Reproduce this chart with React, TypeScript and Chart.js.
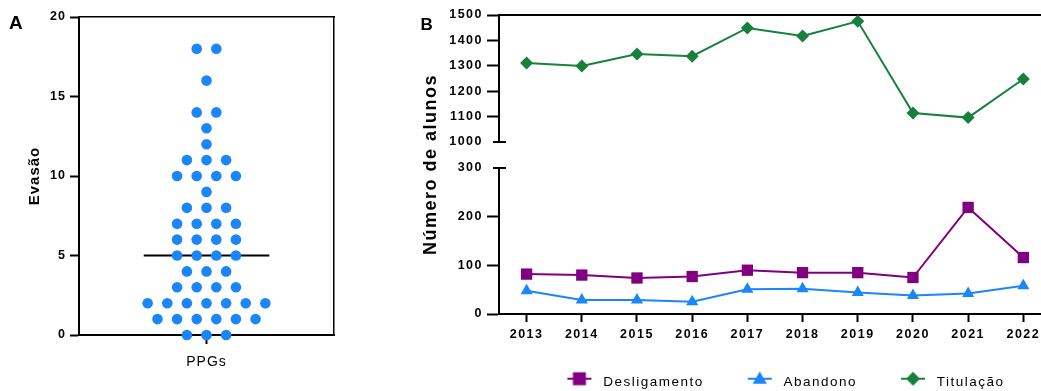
import React, { useEffect, useRef } from "react";
import { Chart, registerables } from "chart.js";

Chart.register(...registerables);

const FONT = "'Liberation Sans', Arial, Helvetica, sans-serif";
Chart.defaults.font.family = FONT;
Chart.defaults.color = "#000";

// ---------- Panel A data ----------
const evasaoCategory = "PPGs";
const evasaoTitle = "Evasão";
const evasaoValues = [
  0, 0, 0,
  1, 1, 1, 1, 1, 1,
  2, 2, 2, 2, 2, 2, 2,
  3, 3, 3, 3,
  4, 4, 4,
  5, 5, 5, 5,
  6, 6, 6, 6,
  7, 7, 7, 7,
  8, 8, 8,
  9,
  10, 10, 10, 10,
  11, 11, 11,
  12,
  13,
  14, 14,
  16,
  18, 18,
];
const evasaoTicks = [0, 5, 10, 15, 20];

// ---------- Panel B data ----------
const years = [2013, 2014, 2015, 2016, 2017, 2018, 2019, 2020, 2021, 2022];
const desligamento = [82, 80, 74, 77, 90, 85, 85, 75, 219, 116];
const abandono = [48, 29, 29, 25, 51, 52, 44, 38, 42, 58];
const titulacao = [1311, 1299, 1346, 1338, 1449, 1417, 1475, 1114, 1096, 1248];
const lowerTicks = [0, 100, 200, 300];
const upperTicks = [1000, 1100, 1200, 1300, 1400, 1500];
const yTitleB = "Número de alunos";
const seriesLabels = ["Desligamento", "Abandono", "Titulação"];

// ---------- styles ----------
const BLUE = "#1A86F7";
const PURPLE = "#800080";
const GREEN = "#17803D";
const BLACK = "#000";

const X_MIN_B = 2012.5;
const X_MAX_B = 2022.32;
const SWARM_HALF_RANGE = 6.5;
const MEDIAN_HALF_WIDTH = 3.2;

function swarm(values: number[]) {
  const counts = new Map<number, number>();
  values.forEach((v) => counts.set(v, (counts.get(v) || 0) + 1));
  const seen = new Map<number, number>();
  return values.map((v) => {
    const n = counts.get(v) || 1;
    const i = seen.get(v) || 0;
    seen.set(v, i + 1);
    return { x: i - (n - 1) / 2, y: v };
  });
}

function median(values: number[]) {
  const s = [...values].sort((a, b) => a - b);
  const m = Math.floor(s.length / 2);
  return s.length % 2 ? s[m] : (s[m - 1] + s[m]) / 2;
}

const spacingPlugin = (px: string) => ({
  id: "letterSpacing",
  beforeUpdate(chart: any) {
    chart.ctx.letterSpacing = px;
  },
  beforeDraw(chart: any) {
    chart.ctx.letterSpacing = px;
  },
});

const breakMarks = {
  id: "breakMarks",
  afterDraw(chart: any) {
    const ctx = chart.ctx;
    const mark = (id: string, value: number) => {
      const s = chart.scales[id];
      const y = Math.round(s.getPixelForValue(value));
      const x = s.right;
      ctx.save();
      ctx.strokeStyle = BLACK;
      ctx.lineWidth = 2;
      ctx.beginPath();
      ctx.moveTo(x - 6, y);
      ctx.lineTo(x + 7, y);
      ctx.stroke();
      ctx.restore();
    };
    mark("yTop", upperTicks[0]);
    mark("yBottom", lowerTicks[lowerTicks.length - 1]);
  },
};

const ICON_LEFT = 32;
const ICON_LINE = 24;
const ICON_RIGHT = 5;
const ICON_W = ICON_LEFT + ICON_LINE + ICON_RIGHT;

function legendIcon(color: string, style: string) {
  const H = 24;
  const c = document.createElement("canvas");
  c.width = ICON_W;
  c.height = H;
  const g = c.getContext("2d")!;
  const x0 = ICON_LEFT;
  const cx = x0 + ICON_LINE / 2;
  const cy = 8;
  g.strokeStyle = color;
  g.lineWidth = 2;
  g.beginPath();
  g.moveTo(x0, cy);
  g.lineTo(x0 + ICON_LINE, cy);
  g.stroke();
  g.fillStyle = color;
  g.beginPath();
  if (style === "rect") {
    g.rect(cx - 6.5, cy - 6.5, 13, 13);
  } else if (style === "triangle") {
    g.moveTo(cx, cy - 7.5);
    g.lineTo(cx + 7, cy + 5);
    g.lineTo(cx - 7, cy + 5);
    g.closePath();
  } else {
    g.moveTo(cx, cy - 7);
    g.lineTo(cx + 7, cy);
    g.lineTo(cx, cy + 7);
    g.lineTo(cx - 7, cy);
    g.closePath();
  }
  g.fill();
  return c;
}

function configA(): any {
  const med = median(evasaoValues);
  const tickFont = { family: FONT, size: 12.5, weight: "bold" as const };
  return {
    type: "scatter",
    data: {
      datasets: [
        {
          type: "scatter",
          data: swarm(evasaoValues),
          backgroundColor: BLUE,
          pointBackgroundColor: BLUE,
          borderWidth: 0,
          pointRadius: 5.3,
          clip: false,
          order: 0,
        },
        {
          type: "line",
          data: [
            { x: -MEDIAN_HALF_WIDTH, y: med },
            { x: MEDIAN_HALF_WIDTH, y: med },
          ],
          borderColor: BLACK,
          borderWidth: 2,
          pointRadius: 0,
          order: 1,
        },
      ],
    },
    options: {
      responsive: false,
      animation: false,
      events: [],
      layout: { autoPadding: false, padding: { top: 17, right: 66, left: 0, bottom: 0 } },
      plugins: { legend: { display: false }, tooltip: { enabled: false } },
      scales: {
        x: {
          type: "linear",
          position: "bottom",
          min: -SWARM_HALF_RANGE,
          max: SWARM_HALF_RANGE,
          afterBuildTicks: (s: any) => {
            s.ticks = [{ value: 0 }];
          },
          afterFit: (s: any) => {
            s.height = 56;
            s.paddingLeft = 0;
            s.paddingRight = 0;
          },
          ticks: {
            callback: () => evasaoCategory,
            font: { family: FONT, size: 14 },
            color: BLACK,
            padding: 10,
            autoSkip: false,
            maxRotation: 0,
          },
          grid: { drawOnChartArea: false, tickLength: 9, tickWidth: 2, tickColor: BLACK },
          border: { color: BLACK, width: 2 },
        },
        xTop: {
          type: "linear",
          position: "top",
          ticks: { display: false },
          grid: { drawOnChartArea: false, drawTicks: false },
          border: { color: BLACK, width: 1.5 },
          afterFit: (s: any) => {
            s.height = 0;
          },
        },
        y: {
          type: "linear",
          position: "left",
          min: evasaoTicks[0],
          max: evasaoTicks[evasaoTicks.length - 1],
          afterBuildTicks: (s: any) => {
            s.ticks = evasaoTicks.map((v) => ({ value: v }));
          },
          afterFit: (s: any) => {
            s.width = 79;
            s.paddingTop = 0;
            s.paddingBottom = 0;
          },
          ticks: { callback: (v: any) => String(v), font: tickFont, color: BLACK, padding: 4, autoSkip: false },
          grid: { drawOnChartArea: false, tickLength: 9, tickWidth: 2, tickColor: BLACK },
          border: { color: BLACK, width: 2 },
          title: {
            display: true,
            text: evasaoTitle,
            font: { family: FONT, size: 15, weight: "bold" },
            color: BLACK,
            padding: { top: 25.5, bottom: 0 },
          },
        },
        yRight: {
          type: "linear",
          position: "right",
          ticks: { display: false },
          grid: { drawOnChartArea: false, drawTicks: false },
          border: { color: BLACK, width: 1.5 },
          afterFit: (s: any) => {
            s.width = 0;
          },
        },
      },
    },
    plugins: [spacingPlugin("1px")],
  };
}

function configB(): any {
  const tickFont = { family: FONT, size: 12.5, weight: "bold" as const };
  const pts = (arr: number[]) => arr.map((v, i) => ({ x: years[i], y: v }));
  const colors = [PURPLE, BLUE, GREEN];
  const styles = ["rect", "triangle", "rectRot"];
  const icons = colors.map((c, i) => legendIcon(c, styles[i]));
  const yCommon = (ticks: number[], breakValue: number) => ({
    type: "linear",
    position: "left",
    stack: "numbers",
    min: ticks[0],
    max: ticks[ticks.length - 1],
    afterBuildTicks: (s: any) => {
      s.ticks = ticks.map((v) => ({ value: v }));
    },
    afterFit: (s: any) => {
      s.width = 60;
      s.paddingTop = 0;
      s.paddingBottom = 0;
    },
    ticks: { callback: (v: any) => String(v), font: tickFont, color: BLACK, padding: 4, autoSkip: false },
    grid: {
      drawOnChartArea: false,
      tickLength: 12,
      tickWidth: 2,
      tickColor: (ctx: any) => (ctx.tick && ctx.tick.value === breakValue ? "rgba(0,0,0,0)" : BLACK),
    },
    border: { color: BLACK, width: 2 },
  });
  return {
    type: "line",
    data: {
      datasets: [
        {
          label: seriesLabels[0],
          data: pts(desligamento),
          xAxisID: "x",
          yAxisID: "yBottom",
          borderColor: PURPLE,
          backgroundColor: PURPLE,
          pointBackgroundColor: PURPLE,
          borderWidth: 2,
          pointStyle: "rect",
          pointRadius: 8,
          pointBorderWidth: 0,
        },
        {
          label: seriesLabels[1],
          data: pts(abandono),
          xAxisID: "x",
          yAxisID: "yBottom",
          borderColor: BLUE,
          backgroundColor: BLUE,
          pointBackgroundColor: BLUE,
          borderWidth: 2,
          pointStyle: "triangle",
          pointRadius: 7,
          pointBorderWidth: 0,
        },
        {
          label: seriesLabels[2],
          data: pts(titulacao),
          xAxisID: "x",
          yAxisID: "yTop",
          borderColor: GREEN,
          backgroundColor: GREEN,
          pointBackgroundColor: GREEN,
          borderWidth: 2,
          pointStyle: "rectRot",
          pointRadius: 6.5,
          pointBorderWidth: 0,
        },
      ],
    },
    options: {
      responsive: false,
      animation: false,
      events: [],
      layout: { autoPadding: false, padding: { top: 15, right: 0, left: 0, bottom: 0 } },
      plugins: {
        tooltip: { enabled: false },
        legend: {
          display: true,
          position: "bottom",
          fullSize: false,
          maxHeight: 27,
          labels: {
            usePointStyle: true,
            pointStyleWidth: ICON_W,
            padding: 12,
            font: { family: FONT, size: 13.5 },
            color: BLACK,
            generateLabels: (chart: any) =>
              chart.data.datasets.map((ds: any, i: number) => ({
                text: ds.label,
                pointStyle: icons[i],
                fillStyle: ds.borderColor,
                strokeStyle: ds.borderColor,
                lineWidth: 0,
                hidden: false,
                datasetIndex: i,
              })),
          },
        },
      },
      scales: {
        x: {
          type: "linear",
          position: "bottom",
          min: X_MIN_B,
          max: X_MAX_B,
          afterBuildTicks: (s: any) => {
            s.ticks = years.map((v) => ({ value: v }));
          },
          afterFit: (s: any) => {
            s.height = 50;
            s.paddingLeft = 0;
            s.paddingRight = 0;
          },
          ticks: {
            callback: (v: any) => String(v),
            font: tickFont,
            color: BLACK,
            padding: 5,
            autoSkip: false,
            maxRotation: 0,
          },
          grid: { drawOnChartArea: false, tickLength: 8, tickWidth: 2, tickColor: BLACK },
          border: { color: BLACK, width: 2 },
        },
        xTop: {
          type: "linear",
          position: "top",
          ticks: { display: false },
          grid: { drawOnChartArea: false, drawTicks: false },
          border: { color: BLACK, width: 2 },
          afterFit: (s: any) => {
            s.height = 0;
          },
        },
        yTitle: {
          type: "linear",
          position: "left",
          weight: 10,
          ticks: { display: false },
          grid: { display: false },
          border: { display: false },
          title: {
            display: true,
            text: yTitleB,
            font: { family: FONT, size: 18, weight: "bold" },
            color: BLACK,
            padding: { top: 10.2, bottom: 0 },
          },
          afterFit: (s: any) => {
            s.width = 29;
            s.paddingTop = 0;
            s.paddingBottom = 0;
          },
        },
        yTop: { ...yCommon(upperTicks, upperTicks[0]), stackWeight: 127, weight: 3 },
        yGap: {
          type: "linear",
          position: "left",
          stack: "numbers",
          stackWeight: 26,
          weight: 2,
          ticks: { display: false },
          grid: { display: false },
          border: { display: false },
          afterFit: (s: any) => {
            s.width = 0;
          },
        },
        yBottom: {
          ...yCommon(lowerTicks, lowerTicks[lowerTicks.length - 1]),
          stackWeight: 146,
          weight: 1,
        },
      },
    },
    plugins: [spacingPlugin("1.5px"), breakMarks],
  };
}

export default function App() {
  const aRef = useRef<HTMLCanvasElement>(null);
  const bRef = useRef<HTMLCanvasElement>(null);

  useEffect(() => {
    const a = new Chart(aRef.current as HTMLCanvasElement, configA());
    const b = new Chart(bRef.current as HTMLCanvasElement, configB());
    return () => {
      a.destroy();
      b.destroy();
    };
  }, []);

  return (
    <div
      style={{
        position: "absolute",
        left: 0,
        top: 0,
        width: 1041,
        height: 391,
        background: "#fff",
        overflow: "hidden",
      }}
    >
      <canvas ref={aRef} width={400} height={391} style={{ position: "absolute", left: 0, top: 0 }} />
      <canvas ref={bRef} width={631} height={391} style={{ position: "absolute", left: 410, top: 0 }} />
      <div
        style={{
          position: "absolute",
          left: 9,
          top: 12.5,
          fontFamily: FONT,
          fontWeight: "bold",
          fontSize: 19,
          lineHeight: 1,
          color: BLACK,
        }}
      >
        A
      </div>
      <div
        style={{
          position: "absolute",
          left: 420.5,
          top: 16,
          fontFamily: FONT,
          fontWeight: "bold",
          fontSize: 17,
          lineHeight: 1,
          color: BLACK,
        }}
      >
        B
      </div>
    </div>
  );
}
